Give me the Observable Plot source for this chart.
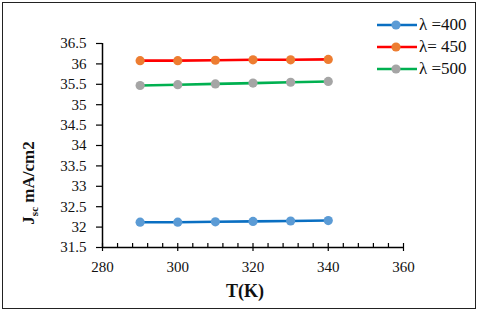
<!DOCTYPE html>
<html><head><meta charset="utf-8">
<script src="https://cdn.jsdelivr.net/npm/d3@7"></script>
<script src="https://cdn.jsdelivr.net/npm/@observablehq/plot@0.6"></script>
<style>
body{margin:0;background:#fff;}
#wrap{position:relative;width:480px;height:313px;overflow:hidden;font-family:"Liberation Serif","DejaVu Serif",serif;background:#fff;}
#frame{position:absolute;left:2px;top:2px;width:472px;height:305px;border:1.5px solid #222;pointer-events:none;}
#legend{position:absolute;left:377px;top:14px;}
.row{display:flex;align-items:center;height:22px;font-size:17px;color:#111;white-space:pre;font-family:"Liberation Serif","DejaVu Serif",serif;}
.row svg{margin-right:1px;}
</style></head><body>
<div id="wrap"><div id="legend"></div><div id="frame"></div></div>
<script>
const temps = [290, 300, 310, 320, 330, 340];
const seriesNames = ["λ =400", "λ= 450", "λ =500"];
const j400 = [32.12, 32.12, 32.13, 32.14, 32.15, 32.16];
const j450 = [36.08, 36.08, 36.09, 36.10, 36.10, 36.11];
const j500 = [35.47, 35.49, 35.51, 35.53, 35.55, 35.57];
const lineColors = ["#0a6fc2", "#ff0000", "#00b050"];
const markerColors = ["#5b9bd5", "#ed7d31", "#a5a5a5"];
const xMajor = [280, 300, 320, 340, 360];
const xMinor = d3.range(280, 361, 4).filter(v => v % 20 !== 0);
const yTicks = [31.5, 32, 32.5, 33, 33.5, 34, 34.5, 35, 35.5, 36, 36.5];
const FONT = "Liberation Serif, DejaVu Serif, serif";

const values = [j400, j450, j500];
const data = seriesNames.flatMap((s, i) => temps.map((t, k) => ({series: s, idx: i, T: t, J: values[i][k]})));

const marks = [
  Plot.axisY({ticks: yTicks, tickSize: 6, tickPadding: 10, tickFormat: d => String(d), label: null, fontSize: 15, stroke: "#000", strokeWidth: 1.2}),
  Plot.axisX({ticks: xMajor, tickSize: 4, tickPadding: 10, tickFormat: d => String(d), label: null, fontSize: 15, stroke: "#000", strokeWidth: 1.2}),
  Plot.axisX({ticks: xMajor.concat(xMinor), tickSize: -4, tickFormat: () => "", label: null, stroke: "#000", strokeWidth: 1.2}),
  Plot.ruleY([31.5], {stroke: "#000", strokeWidth: 1.5}),
  Plot.ruleX([280], {stroke: "#000", strokeWidth: 1.5})
];
seriesNames.forEach((s, i) => {
  const d = data.filter(r => r.idx === i);
  marks.push(Plot.line(d, {x: "T", y: "J", stroke: lineColors[i], strokeWidth: 2.6}));
  marks.push(Plot.dot(d, {x: "T", y: "J", r: 4.6, fill: markerColors[i], stroke: "none"}));
});

const chart = Plot.plot({
  width: 480, height: 313,
  marginLeft: 102, marginRight: 77, marginTop: 43, marginBottom: 66,
  style: {fontSize: "15px", color: "#111", background: "transparent"},
  x: {domain: [280, 360]},
  y: {domain: [31.5, 36.5]},
  marks
});

const svg = d3.select(chart);
svg.attr("font-family", FONT);
svg.selectAll("g[aria-label$='tick label']").attr("font-size", 15).style("font-size", "15px");
svg.selectAll("g[aria-label$='tick label'] text").style("font-size", "15px").attr("font-family", FONT).attr("fill", "#111");
const yl = svg.append("text")
  .attr("transform", "translate(34,183) rotate(-90)")
  .attr("text-anchor", "middle")
  .attr("font-weight", "bold").attr("font-size", 17).attr("fill", "#111")
  .attr("font-family", FONT);
yl.append("tspan").text("J");
yl.append("tspan").attr("font-size", 11).attr("dy", 4).text("sc");
yl.append("tspan").attr("dy", -4).text(" mA/cm2");
svg.append("text")
  .attr("x", 245).attr("y", 297)
  .attr("text-anchor", "middle")
  .attr("font-weight", "bold").attr("font-size", 18).attr("fill", "#111")
  .attr("font-family", FONT)
  .text("T(K)");

const wrap = document.getElementById("wrap");
chart.style.position = "absolute"; chart.style.left = "0"; chart.style.top = "0";
wrap.insertBefore(chart, wrap.firstChild);

const legend = d3.select("#legend");
seriesNames.forEach((s, i) => {
  const row = legend.append("div").attr("class", "row");
  const sv = row.append("svg").attr("width", 41).attr("height", 12);
  sv.append("line").attr("x1", 0).attr("x2", 40).attr("y1", 6).attr("y2", 6).attr("stroke", lineColors[i]).attr("stroke-width", 2.6);
  sv.append("circle").attr("cx", 19).attr("cy", 6).attr("r", 4.6).attr("fill", markerColors[i]);
  row.append("span").text(s);
});
</script>
</body></html>
